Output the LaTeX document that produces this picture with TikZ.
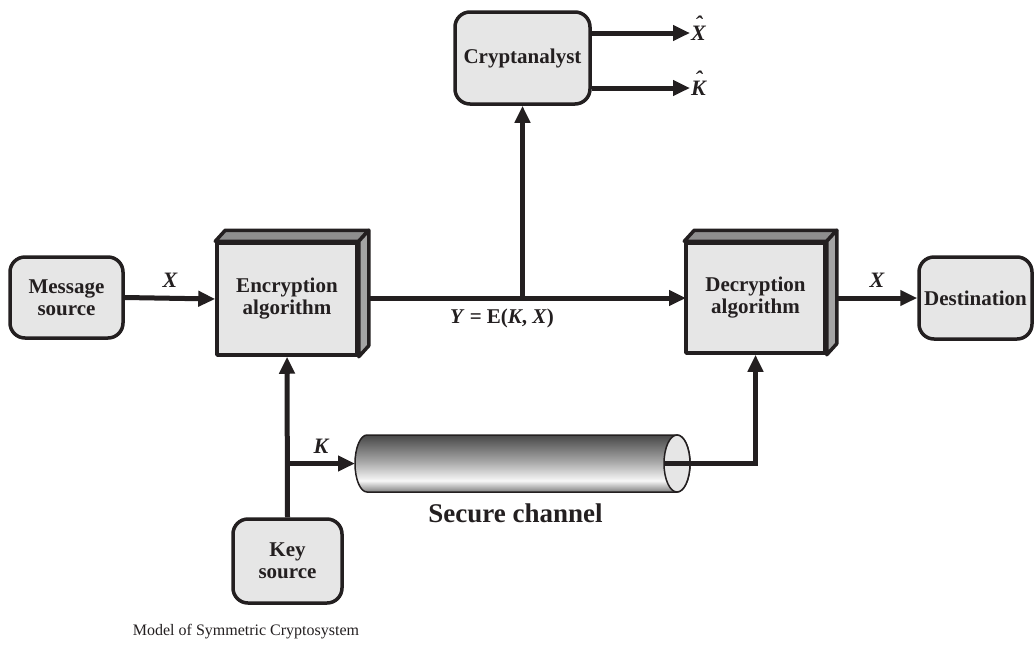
\documentclass[tikz,border=0pt]{standalone}
\usepackage{fontspec}
\setmainfont{Liberation Serif}
\usetikzlibrary{arrows.meta,calc}
\definecolor{boxfill}{HTML}{E6E6E6}
\definecolor{ink}{HTML}{231F20}
\definecolor{topgray}{HTML}{8E8E8E}
\definecolor{sidegray}{HTML}{A4A4A4}
\pgfdeclareverticalshading{tube}{100bp}{color(0bp)=(black!50); color(25bp)=(black!50); color(35bp)=(black!3); color(52bp)=(black!35); color(75bp)=(black!72); color(100bp)=(black!72)}
\newcommand\withhat[1]{\ooalign{#1\cr\hidewidth\raisebox{0.38em}{\char"02C6}\hidewidth\cr}}
\tikzset{
  blk/.style={draw=ink, line width=3.5pt, fill=boxfill, rounded corners=15pt, inner sep=0pt, align=center, text=ink, font=\fontsize{21}{22}\selectfont\bfseries},
  algbox/.style={draw=ink, line width=3.5pt, fill=boxfill, inner sep=0pt, align=center, text=ink, font=\fontsize{21}{22}\selectfont\bfseries, line join=round},
  face/.style={draw=ink, line width=3.5pt, line join=round},
  conn/.style={draw=ink, line width=5pt, -{Triangle[length=17pt,width=15pt]}},
  plain/.style={draw=ink, line width=5pt},
  lbl/.style={text=ink, font=\fontsize{22}{23}\selectfont\bfseries\itshape, inner sep=2pt}
}
\begin{document}
\begin{tikzpicture}[x=1pt,y=-1pt]
\useasboundingbox[fill=white] (0,0) rectangle (1034,649);

% blocks
\node[blk, minimum width=113pt, minimum height=81pt] (msg) at (66.5,297.5) {Message\\source};
\node[blk, minimum width=135pt, minimum height=92pt] (crypt) at (522.5,58) {Cryptanalyst};
\node[blk, minimum width=113pt, minimum height=82pt] (dest) at (975.5,298) {Destination};
\node[blk, minimum width=109pt, minimum height=84pt] (key) at (287.5,561) {Key\\source};

% connectors behind the 3D boxes
\coordinate (split) at (522.5,298);
\draw[plain] (287,298) -- (split);
\draw[conn] (split) -- (686,298);

% 3D boxes
\node[algbox, minimum width=140pt, minimum height=112pt] (enc) at (287,299) {Encryption\\algorithm};
\draw[face, fill=topgray] (enc.north west) -- ++(10,-11) -- ($(enc.north east)+(10,-11)$) -- (enc.north east) -- cycle;
\draw[face, fill=sidegray] (enc.north east) -- ++(10,-11) -- ($(enc.south east)+(10,-11)$) -- (enc.south east) -- cycle;

\node[algbox, minimum width=139pt, minimum height=110pt] (dec) at (755.5,298) {Decryption\\algorithm};
\draw[face, fill=topgray] (dec.north west) -- ++(10,-11) -- ($(dec.north east)+(10,-11)$) -- (dec.north east) -- cycle;
\draw[face, fill=sidegray] (dec.north east) -- ++(10,-11) -- ($(dec.south east)+(10,-11)$) -- (dec.south east) -- cycle;

% secure channel tube
\shade[shading=tube, draw=ink, line width=1.5pt]
  (367,435) -- (677,435) arc[start angle=-90, end angle=90, x radius=13, y radius=28.5]
  -- (367,492) arc[start angle=90, end angle=270, x radius=12, y radius=28.5] -- cycle;
\draw[draw=ink, line width=1.5pt, fill=boxfill] (677,463.5) ellipse[x radius=13, y radius=28.5];
\coordinate (chL) at (355,463.5);
\coordinate (chR) at (664,463.5);
\node[text=ink, font=\fontsize{27}{28}\selectfont\bfseries] (sclbl) at (515.5,513) {Secure channel};

% remaining connectors
\draw[conn] (msg.east) -- node[lbl, above=6pt] (lx1) {X} (enc.west);
\draw[conn] (split) -- (crypt.south);
\node[text=ink, font=\fontsize{21}{22}\selectfont\bfseries] (ylbl) at (502,318) {\textit{Y} = E(\textit{K}, \textit{X})};
\coordinate (xhat) at (690,33);
\coordinate (khat) at (690,88);
\draw[conn] (crypt.east |- xhat) -- (xhat);
\draw[conn] (crypt.east |- khat) -- (khat);
\node[lbl, anchor=base west, inner sep=1pt] (xh) at ([yshift=-7pt]xhat) {\withhat{X}};
\node[lbl, anchor=base west, inner sep=1pt] (kh) at ([yshift=-7pt]khat) {\withhat{K}};
\draw[conn] ($(dec.east)+(10,0)$) -- node[lbl, above=6pt] (lx2) {X} (dest.west);
\draw[conn] (key.north) -- (enc.south);
\coordinate (kb) at (enc.south |- chL);
\draw[conn] (kb) -- node[lbl, above=6pt] (lk) {K} (chL);
\draw[conn] (chR) -| (dec.south);

\node[text=ink, font=\fontsize{16}{17}\selectfont] (cap) at (246,632) {Model of Symmetric Cryptosystem};
\end{tikzpicture}
\end{document}
